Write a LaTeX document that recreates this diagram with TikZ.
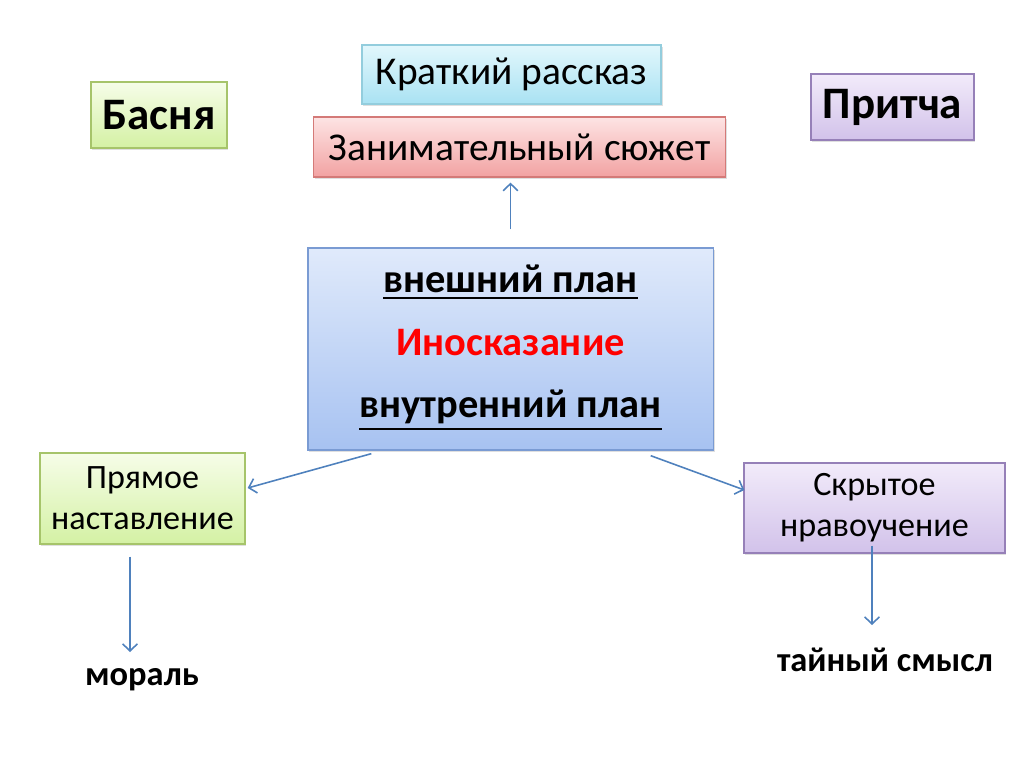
\documentclass[tikz,border=0pt]{standalone}
\usepackage{fontspec}
\setmainfont{Carlito}
\usetikzlibrary{shadows,arrows.meta}

\definecolor{arrowblue}{HTML}{4F81BD}
\definecolor{cyantop}{HTML}{E2F7FC}
\definecolor{cyanbot}{HTML}{A9E2F3}
\definecolor{cyanline}{HTML}{93CDDD}
\definecolor{pinktop}{HTML}{FDE4E4}
\definecolor{pinkbot}{HTML}{F2A2A2}
\definecolor{pinkline}{HTML}{D47A78}
\definecolor{greentop}{HTML}{F6FDE8}
\definecolor{greenbot}{HTML}{D4F1A4}
\definecolor{greenline}{HTML}{A6C46A}
\definecolor{lilactop}{HTML}{F2EBFA}
\definecolor{lilacbot}{HTML}{D2C2EA}
\definecolor{lilacline}{HTML}{9680B8}
\definecolor{bluetop}{HTML}{E0EAFB}
\definecolor{bluebot}{HTML}{A7C2F1}
\definecolor{blueline}{HTML}{7A9BD3}

\newcommand*\planul[1]{\leavevmode\vtop{\hbox{#1}\kern1.3pt\hrule height 0.65pt}}

\begin{document}
\begin{tikzpicture}[x=0.01cm,y=-0.01cm,>={Straight Barb[length=2pt,width=4.2pt]},
  box/.style={rectangle,draw,line width=0.35pt,inner sep=0pt,align=center,
    drop shadow={opacity=0.25,shadow xshift=0.4pt,shadow yshift=-0.6pt}},
  cyanbox/.style={box,draw=cyanline,top color=cyantop,bottom color=cyanbot},
  pinkbox/.style={box,draw=pinkline,top color=pinktop,bottom color=pinkbot},
  greenbox/.style={box,draw=greenline,top color=greentop,bottom color=greenbot},
  lilacbox/.style={box,draw=lilacline,top color=lilactop,bottom color=lilacbot},
  bluebox/.style={box,draw=blueline,top color=bluetop,bottom color=bluebot},
  link/.style={->,draw=arrowblue,line width=0.45pt},
  txt/.style={font=\fontsize{11.2}{14}\selectfont},
  small/.style={font=\fontsize{9.7}{11.7}\selectfont},
  big/.style={font=\fontsize{12.8}{15}\selectfont\bfseries},
  plain/.style={font=\fontsize{11.5}{15}\selectfont\bfseries},
  word/.style={font=\fontsize{9.8}{12}\selectfont\bfseries}]
\useasboundingbox (0,0) rectangle (1024,767);

\node[cyanbox,txt,minimum width=2.99cm,minimum height=0.59cm](kratkiy) at (511.5,74.5) {Краткий рассказ};
\node[pinkbox,txt,minimum width=4.11cm,minimum height=0.60cm](syuzhet) at (519.5,147) {Занимательный сюжет};
\node[greenbox,big,minimum width=1.36cm,minimum height=0.66cm](basnya) at (159,115) {Басня};
\node[lilacbox,big,minimum width=1.63cm,minimum height=0.66cm](pritcha) at (892.5,107) {Притча};

% central block
\node[bluebox,minimum width=4.05cm,minimum height=2.02cm](plan) at (510.5,349) {};
\node[plain,anchor=base](vnesh) at (510.5,292) {\planul{внешний план}};
\node[plain,red](inos) at (510.5,343) {Иносказание};
\node[plain,anchor=base](vnutr) at (510.5,417) {\planul{внутренний план}};

\node[greenbox,small,minimum width=2.05cm,minimum height=0.91cm](pryamoe) at (142.5,498.5) {Прямое\\наставление};
\node[lilacbox,small,minimum width=2.61cm,minimum height=0.90cm](skrytoe) at (874.5,508) {Скрытое\\нравоучение};

\node[word](moral) at (142,680) {мораль};
\node[word](taynyy) at (885,660) {тайный смысл};

\coordinate (m1) at (130,652);
\coordinate (t1) at (872,625);

\draw[link,shorten <=0.18cm,shorten >=0.05cm] (plan.north) -- (plan.north |- syuzhet.south);
\draw[link] ([xshift=0.64cm,yshift=-0.03cm]plan.south west) -- ([xshift=0.02cm,yshift=0.105cm]pryamoe.east);
\draw[link] ([xshift=-0.63cm,yshift=-0.05cm]plan.south east) -- ([xshift=0.01cm,yshift=0.18cm]skrytoe.west);
\draw[link,shorten <=0.12cm] (pryamoe.south -| m1) -- (m1);
\draw[link,shorten <=-0.08cm] (skrytoe.south -| t1) -- (t1);

\end{tikzpicture}
\end{document}
